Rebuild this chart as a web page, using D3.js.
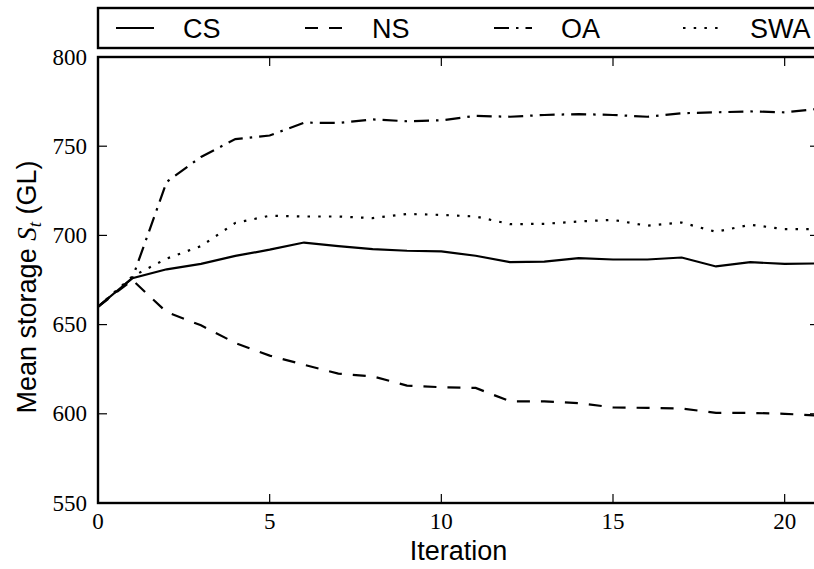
<!DOCTYPE html>
<html>
<head>
<meta charset="utf-8"/>
<title>Mean storage by iteration</title>
<script src="https://d3js.org/d3.v7.min.js"></script>
<style>
    body { margin: 0; background: #fff; }
    .tick-label { font-family: "Liberation Serif", serif; font-size: 23px; fill: #000; }
    .axis-label { font-family: "Liberation Sans", Arial, sans-serif; font-size: 27px; fill: #000; }
    .legend-text { font-family: "Liberation Sans", Arial, sans-serif; font-size: 27px; fill: #000; }
    .series { fill: none; stroke: #000; stroke-width: 2.2px; }
</style>
</head>
<body>
<div id="chart"></div>
<script>
// iterations along the x axis
var iterations = [0, 1, 2, 3, 4, 5, 6, 7, 8, 9, 10, 11, 12, 13, 14, 15, 16, 17, 18, 19, 20, 21];

// mean storage values (GL)
var cs  = [660, 676, 681, 684, 688.5, 692, 696, 694, 692.3, 691.4, 691, 688.6, 685, 685.3, 687.3, 686.5, 686.5, 687.6, 682.6, 685, 684, 684.3];
var ns  = [660, 675, 657, 649.6, 639.7, 632.6, 627.5, 622.5, 621, 615.8, 614.9, 614.5, 607, 607, 606, 603.6, 603.3, 603, 600.5, 600.5, 600, 599];
var oa  = [660, 676, 730, 744, 754, 756, 763.2, 763, 765, 764, 764.5, 767, 766.5, 767.5, 768, 767.5, 766.5, 768.5, 769, 769.5, 769, 771];
var swa = [660, 677, 687, 694, 707, 711, 710.6, 710.6, 709.7, 712, 711.5, 710.6, 706.3, 706.5, 707.8, 708.7, 705.4, 707.2, 702, 706, 703.5, 703.5];

var seriesNames = ["CS", "NS", "OA", "SWA"];
var xTicks = [0, 5, 10, 15, 20];
var yTicks = [550, 600, 650, 700, 750, 800];

var width = 814, height = 569;
var mLeft = 98, mRight = 819, mTop = 57, mBottom = 503;

var dashes = {
    "CS": null,
    "NS": "13,11",
    "OA": "15,7,2.5,7",
    "SWA": "2.5,8.2"
};
var values = { "CS": cs, "NS": ns, "OA": oa, "SWA": swa };

var svg = d3.select("#chart").append("svg")
    .attr("width", width)
    .attr("height", height);

var x = d3.scaleLinear().domain([0, 21]).range([mLeft, mRight]);
var y = d3.scaleLinear().domain([550, 800]).range([mBottom, mTop]);

svg.append("defs").append("clipPath").attr("id", "plot-clip")
    .append("rect")
    .attr("x", mLeft).attr("y", mTop)
    .attr("width", mRight - mLeft).attr("height", mBottom - mTop);

// lines
var line = d3.line()
    .x(function(d, i){ return x(iterations[i]); })
    .y(function(d){ return y(d); });

var lines = svg.append("g").attr("clip-path", "url(#plot-clip)");
seriesNames.forEach(function(name){
    lines.append("path")
        .attr("class", "series")
        .attr("d", line(values[name]))
        .attr("stroke-dasharray", dashes[name]);
});

// ticks, inward on all four sides
var tickLen = 9;
var axes = svg.append("g").attr("stroke", "#000").attr("stroke-width", 1.2);
xTicks.forEach(function(t){
    axes.append("line").attr("x1", x(t)).attr("x2", x(t)).attr("y1", mBottom).attr("y2", mBottom - tickLen);
    axes.append("line").attr("x1", x(t)).attr("x2", x(t)).attr("y1", mTop).attr("y2", mTop + tickLen);
});
yTicks.forEach(function(t){
    axes.append("line").attr("x1", mLeft).attr("x2", mLeft + tickLen).attr("y1", y(t)).attr("y2", y(t));
    axes.append("line").attr("x1", mRight).attr("x2", mRight - tickLen).attr("y1", y(t)).attr("y2", y(t));
});

// frame
svg.append("rect")
    .attr("x", mLeft).attr("y", mTop)
    .attr("width", mRight - mLeft).attr("height", mBottom - mTop)
    .attr("fill", "none").attr("stroke", "#000").attr("stroke-width", 2.4);

// tick labels
svg.selectAll(".xlab").data(xTicks).enter().append("text")
    .attr("class", "tick-label")
    .attr("x", function(d){ return x(d); })
    .attr("y", 529)
    .attr("text-anchor", "middle")
    .text(function(d){ return d; });

svg.selectAll(".ylab").data(yTicks).enter().append("text")
    .attr("class", "tick-label")
    .attr("x", 87)
    .attr("y", function(d){ return y(d) + 7.5; })
    .attr("text-anchor", "end")
    .text(function(d){ return d; });

// axis titles
svg.append("text")
    .attr("class", "axis-label")
    .attr("x", (mLeft + mRight) / 2)
    .attr("y", 560)
    .attr("text-anchor", "middle")
    .text("Iteration");

var yl = svg.append("text")
    .attr("class", "axis-label")
    .attr("transform", "translate(36,287) rotate(-90)")
    .attr("text-anchor", "middle");
yl.append("tspan").text("Mean storage ");
yl.append("tspan").attr("font-family", "Liberation Serif, serif").attr("font-style", "italic").text("S");
yl.append("tspan").attr("font-family", "Liberation Serif, serif").attr("font-style", "italic")
    .attr("font-size", "19px").attr("dy", 5).text("t");
yl.append("tspan").attr("dy", -5).text(" (GL)");

// legend
var legend = svg.append("g");
legend.append("rect")
    .attr("x", mLeft).attr("y", 8)
    .attr("width", mRight - mLeft).attr("height", 40)
    .attr("fill", "#fff").attr("stroke", "#000").attr("stroke-width", 2.4);

var colW = 189;
seriesNames.forEach(function(name, i){
    var x0 = 116 + colW * i;
    legend.append("line")
        .attr("class", "series")
        .attr("x1", x0).attr("x2", x0 + 38)
        .attr("y1", 28).attr("y2", 28)
        .attr("stroke-dasharray", dashes[name]);
    legend.append("text")
        .attr("class", "legend-text")
        .attr("x", x0 + 67)
        .attr("y", 38)
        .text(name);
});
</script>
</body>
</html>
